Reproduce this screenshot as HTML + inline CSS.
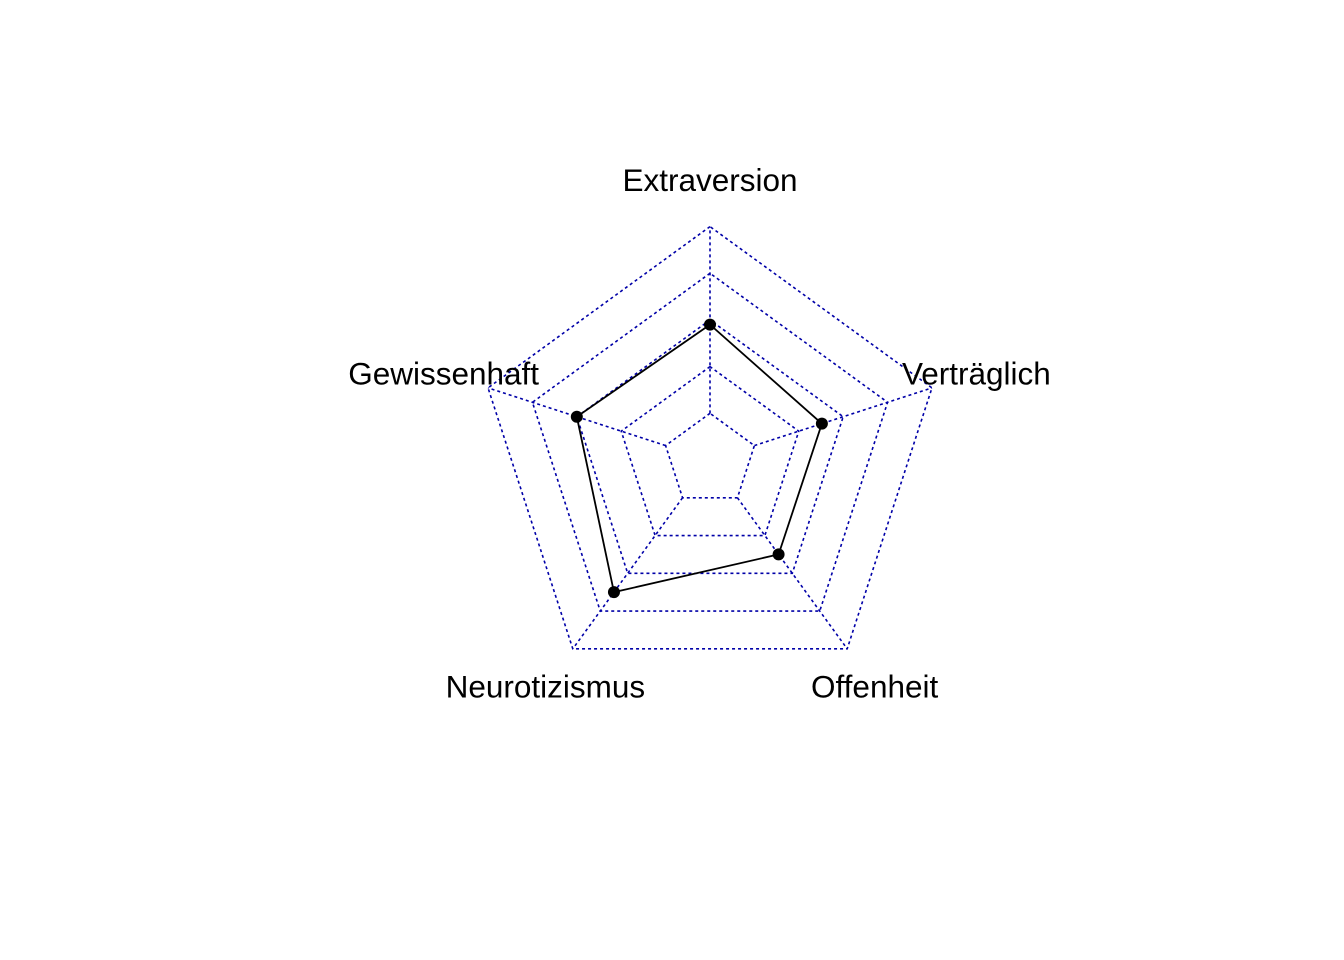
<!DOCTYPE html>
<html><head><meta charset="utf-8"><style>
html,body{margin:0;padding:0;background:#fff;}
svg{display:block;}
</style></head><body>
<svg id="chart" width="1344" height="960" xmlns="http://www.w3.org/2000/svg"></svg>
<script>
const categories = ["Extraversion","Gewissenhaft","Neurotizismus","Offenheit","Verträglich"];
const values = [47.5, 50, 62.5, 37.5, 38];
const ringLevels = [0, 25, 50, 75, 100];

const svg = document.getElementById('chart');
const NS = 'http://www.w3.org/2000/svg';
const cx = 710, cy = 460, R = 233.4;
const gridColor = '#0000a8';
function radius(v){ return R * (0.2 + 0.8 * v / 100); }
function angle(i){ return (90 + 72 * i) * Math.PI / 180; }
function pt(i, r){ return [cx + r * Math.cos(angle(i)), cy - r * Math.sin(angle(i))]; }

// axes (from innermost ring to outer ring)
categories.forEach((c, i) => {
  const [x0, y0] = pt(i, radius(0));
  const [x, y] = pt(i, R);
  const l = document.createElementNS(NS, 'line');
  l.setAttribute('x1', x0); l.setAttribute('y1', y0);
  l.setAttribute('x2', x); l.setAttribute('y2', y);
  l.setAttribute('stroke', gridColor); l.setAttribute('stroke-width', '1.6');
  l.setAttribute('stroke-dasharray', '3,3');
  
  
  svg.appendChild(l);
});
// rings
ringLevels.forEach((lv, k) => {
  const r = radius(lv);
  const pts = categories.map((c, i) => pt(i, r).join(',')).join(' ');
  const p = document.createElementNS(NS, 'polygon');
  p.setAttribute('points', pts);
  p.setAttribute('fill', 'none'); p.setAttribute('stroke', gridColor);
  p.setAttribute('stroke-width', '1.6'); p.setAttribute('stroke-dasharray', '3,3');
  
  
  svg.appendChild(p);
});
// data polygon
const dpts = values.map((v, i) => pt(i, radius(v)).join(',')).join(' ');
const poly = document.createElementNS(NS, 'polygon');
poly.setAttribute('points', dpts);
poly.setAttribute('fill', 'none'); poly.setAttribute('stroke', '#000');
poly.setAttribute('stroke-width', '1.8');


svg.appendChild(poly);
values.forEach((v, i) => {
  const [x, y] = pt(i, radius(v));
  const c = document.createElementNS(NS, 'circle');
  c.setAttribute('cx', x); c.setAttribute('cy', y); c.setAttribute('r', '6');
  c.setAttribute('fill', '#000');
  
  
  svg.appendChild(c);
});
// labels
categories.forEach((c, i) => {
  const [x, y] = pt(i, R * 1.2);
  const t = document.createElementNS(NS, 'text');
  t.setAttribute('x', x); t.setAttribute('y', y + 11);
  t.setAttribute('text-anchor', 'middle');
  t.setAttribute('font-family', '"Liberation Sans", Arial, sans-serif');
  t.setAttribute('font-size', '31.5');
  t.setAttribute('fill', '#000');
  
  
  t.textContent = c;
  svg.appendChild(t);
});
</script>
</body></html>
